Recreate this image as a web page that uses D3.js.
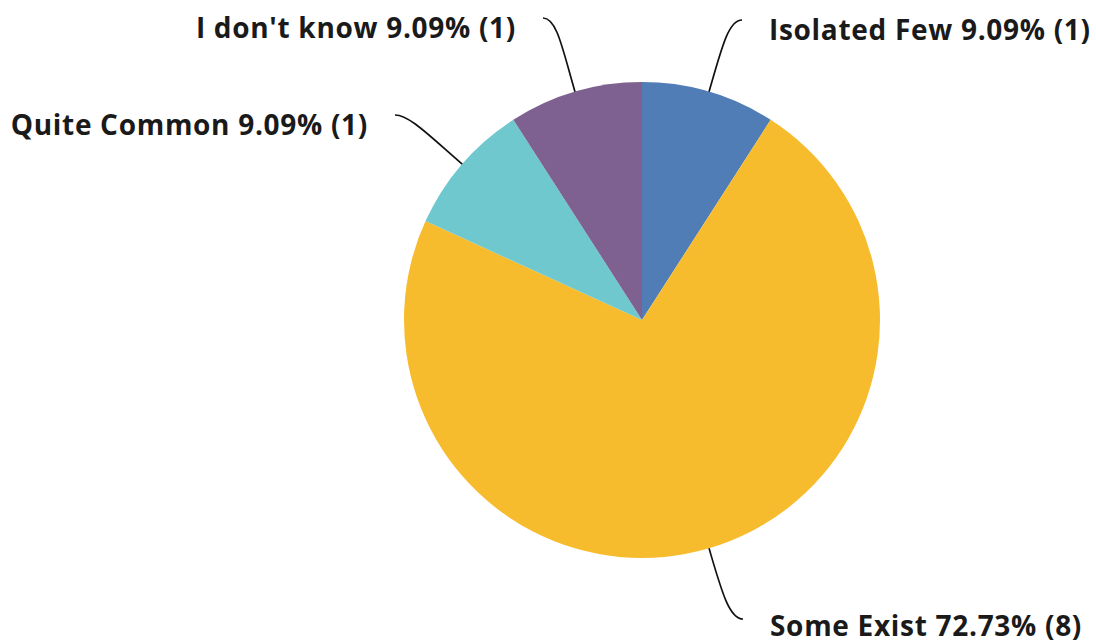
<!DOCTYPE html>
<html>
<head>
<meta charset="utf-8">
<script src="https://cdn.jsdelivr.net/npm/d3@7"></script>
<style>
  html, body { margin: 0; padding: 0; background: #fff; }
  svg text { font-family: "Open Sans", sans-serif; font-weight: 700; fill: #1a1a1a; letter-spacing: 0.7px; }
</style>
</head>
<body>
<svg id="chart" width="1096" height="644"></svg>
<script>
// Survey answer categories, in clockwise order from 12 o'clock
const categories = ["Isolated Few", "Some Exist", "Quite Common", "I don't know"];
const percents = [9.09, 72.73, 9.09, 9.09];
const counts = [1, 8, 1, 1];
const colors = ["#517db6", "#f7bc2e", "#6fc8cd", "#7e6190"];

const data = categories.map((c, i) => ({ label: c, pct: percents[i], n: counts[i], color: colors[i] }));

const svg = d3.select("#chart");
const cx = 642, cy = 320, radius = 238;

const pie = d3.pie().value(d => d.pct).sort(null);
const arc = d3.arc().innerRadius(0).outerRadius(radius);
const arcs = pie(data);

const g = svg.append("g").attr("transform", `translate(${cx},${cy})`);

g.selectAll("path.slice")
  .data(arcs)
  .join("path")
  .attr("class", "slice")
  .attr("d", arc)
  .attr("fill", d => d.data.color);

// Leader line endpoints, relative to the pie centre
const leaderEnds = {
  "Isolated Few": [100, -300],
  "Some Exist": [101, 299],
  "Quite Common": [-247, -205],
  "I don't know": [-99, -302]
};

arcs.forEach(a => {
  const mid = (a.startAngle + a.endAngle) / 2;
  const dir = [Math.sin(mid), -Math.cos(mid)];
  const s = [dir[0] * radius, dir[1] * radius];
  const e = leaderEnds[a.data.label];
  const side = e[0] >= 0 ? 1 : -1;
  const dist = Math.hypot(e[0] - s[0], e[1] - s[1]);
  const c1 = [s[0] + dir[0] * dist * 0.55, s[1] + dir[1] * dist * 0.55];
  const c2 = [e[0] - side * 14, e[1]];
  const p = d3.path();
  p.moveTo(s[0], s[1]);
  p.bezierCurveTo(c1[0], c1[1], c2[0], c2[1], e[0], e[1]);
  g.append("path")
    .attr("d", p.toString())
    .attr("fill", "none")
    .attr("stroke", "#111")
    .attr("stroke-width", 1.7);

  // labels below the pie sit a touch higher so descenders stay on the canvas
  g.append("text")
    .attr("x", e[0] + side * 27)
    .attr("y", e[1] + (e[1] > 0 ? 17 : 20))
    .attr("text-anchor", side > 0 ? "start" : "end")
    .attr("font-size", 28)
    .text(`${a.data.label} ${a.data.pct.toFixed(2)}% (${a.data.n})`);
});
</script>
</body>
</html>
